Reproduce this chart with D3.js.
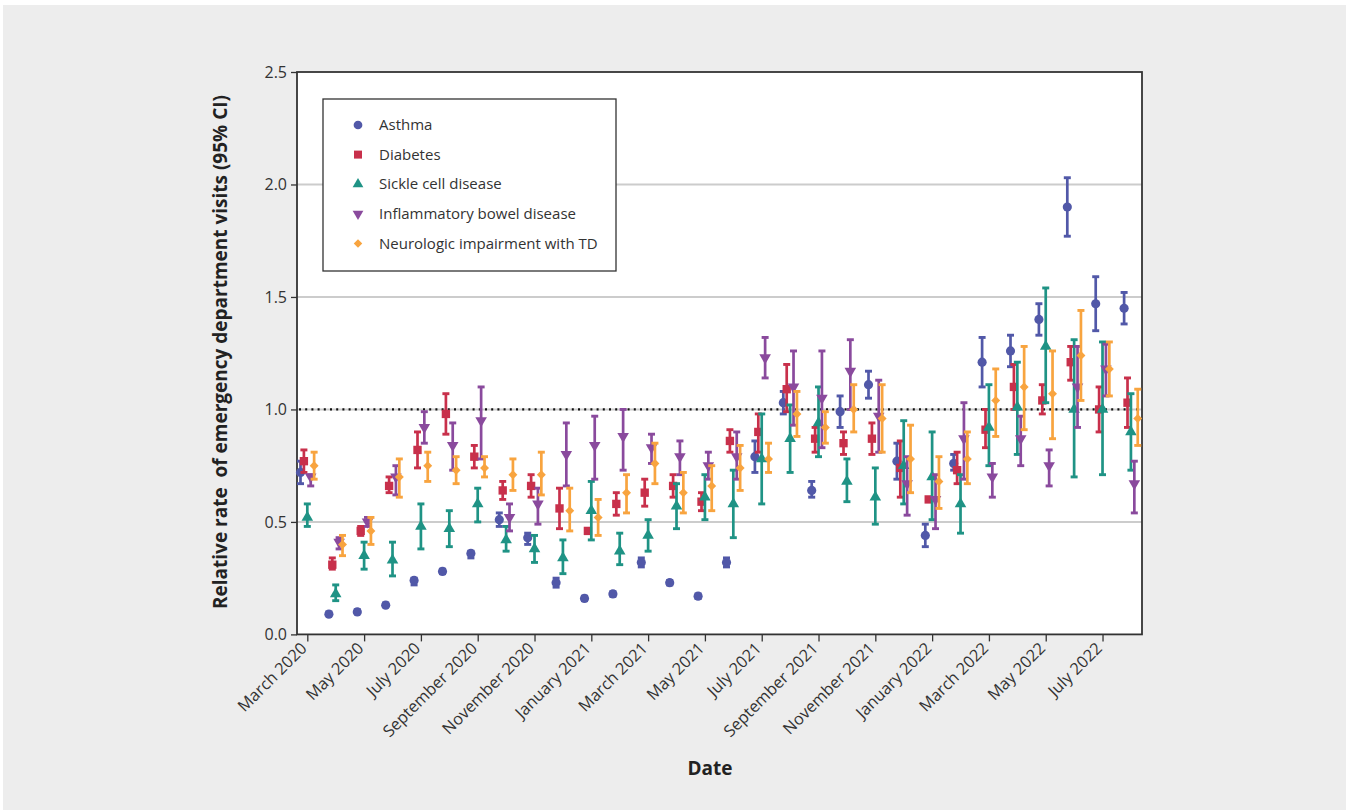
<!DOCTYPE html>
<html>
<head>
<meta charset="utf-8">
<script src="https://cdn.jsdelivr.net/npm/d3@7"></script>
<style>
  body { margin: 0; background: #fff; }
  svg { display: block; font-family: "Open Sans", sans-serif; }
</style>
</head>
<body>
<svg id="chart" width="1346" height="810"></svg>
<script>
// months, March 2020 .. August 2022
var months = ["March 2020","April 2020","May 2020","June 2020","July 2020","August 2020",
  "September 2020","October 2020","November 2020","December 2020","January 2021","February 2021",
  "March 2021","April 2021","May 2021","June 2021","July 2021","August 2021",
  "September 2021","October 2021","November 2021","December 2021","January 2022","February 2022",
  "March 2022","April 2022","May 2022","June 2022","July 2022","August 2022"];

var seriesNames = ["Asthma","Diabetes","Sickle cell disease","Inflammatory bowel disease","Neurologic impairment with TD"];

var asthma   = [0.72,0.09,0.10,0.13,0.24,0.28,0.36,0.51,0.43,0.23,0.16,0.18,0.32,0.23,0.17,0.32,0.79,1.03,0.64,0.99,1.11,0.77,0.44,0.76,1.21,1.26,1.40,1.90,1.47,1.45];
var asthmaLo = [0.67,0.09,0.10,0.13,0.22,0.27,0.34,0.48,0.40,0.21,0.15,0.17,0.30,0.22,0.16,0.30,0.72,0.98,0.61,0.92,1.05,0.69,0.39,0.73,1.10,1.19,1.33,1.77,1.35,1.38];
var asthmaHi = [0.77,0.10,0.11,0.14,0.25,0.29,0.37,0.54,0.45,0.25,0.17,0.19,0.34,0.24,0.18,0.34,0.86,1.08,0.68,1.06,1.17,0.85,0.49,0.80,1.32,1.33,1.47,2.03,1.59,1.52];

var diabetes   = [0.77,0.31,0.46,0.66,0.82,0.98,0.79,0.64,0.66,0.56,0.46,0.58,0.63,0.66,0.59,0.86,0.90,1.09,0.87,0.85,0.87,0.74,0.60,0.73,0.91,1.10,1.04,1.21,1.00,1.03];
var diabetesLo = [0.72,0.29,0.44,0.63,0.74,0.89,0.74,0.60,0.61,0.47,0.46,0.53,0.57,0.61,0.55,0.81,0.81,0.99,0.81,0.80,0.80,0.61,0.60,0.67,0.83,1.00,0.98,1.13,0.90,0.92];
var diabetesHi = [0.82,0.34,0.48,0.70,0.90,1.07,0.84,0.68,0.71,0.65,0.46,0.63,0.69,0.71,0.63,0.91,0.98,1.20,0.92,0.90,0.94,0.86,0.60,0.81,1.00,1.20,1.11,1.28,1.10,1.14];

var sickle   = [0.52,0.18,0.35,0.33,0.48,0.47,0.58,0.42,0.38,0.34,0.55,0.37,0.44,0.57,0.61,0.58,0.78,0.87,0.94,0.68,0.61,0.75,0.70,0.58,0.92,1.01,1.28,1.00,1.00,0.90];
var sickleLo = [0.48,0.15,0.29,0.26,0.38,0.39,0.50,0.37,0.32,0.27,0.42,0.31,0.37,0.47,0.51,0.43,0.58,0.72,0.79,0.59,0.49,0.58,0.51,0.45,0.75,0.80,1.03,0.70,0.71,0.73];
var sickleHi = [0.58,0.22,0.41,0.41,0.58,0.55,0.65,0.48,0.44,0.42,0.68,0.45,0.51,0.67,0.71,0.73,0.98,1.02,1.10,0.78,0.74,0.95,0.90,0.71,1.11,1.21,1.54,1.31,1.30,1.07];

var ibd   = [0.70,0.41,0.50,0.70,0.92,0.84,0.95,0.52,0.58,0.80,0.84,0.88,0.83,0.79,0.75,0.79,1.23,1.10,1.05,1.17,0.97,0.67,0.60,0.87,0.70,0.87,0.75,1.10,1.18,0.67];
var ibdLo = [0.66,0.38,0.48,0.62,0.85,0.73,0.78,0.46,0.49,0.66,0.69,0.73,0.76,0.71,0.69,0.69,1.14,0.93,0.83,1.00,0.81,0.53,0.47,0.69,0.61,0.75,0.66,0.92,1.06,0.54];
var ibdHi = [0.71,0.43,0.52,0.75,0.99,0.94,1.10,0.58,0.65,0.94,0.97,1.00,0.89,0.86,0.81,0.90,1.32,1.26,1.26,1.31,1.13,0.79,0.71,1.03,0.76,0.97,0.82,1.28,1.29,0.77];

var neuro   = [0.75,0.40,0.46,0.70,0.75,0.73,0.74,0.71,0.71,0.55,0.52,0.63,0.76,0.63,0.66,0.74,0.78,0.98,0.92,1.00,0.96,0.78,0.68,0.78,1.04,1.10,1.07,1.24,1.18,0.96];
var neuroLo = [0.69,0.35,0.40,0.61,0.68,0.67,0.70,0.64,0.62,0.46,0.44,0.54,0.67,0.54,0.55,0.64,0.72,0.88,0.85,0.90,0.81,0.63,0.56,0.67,0.88,0.91,0.87,1.04,1.06,0.84];
var neuroHi = [0.81,0.44,0.52,0.78,0.81,0.79,0.79,0.78,0.81,0.65,0.60,0.71,0.85,0.72,0.75,0.84,0.85,1.08,0.99,1.11,1.11,0.93,0.79,0.90,1.18,1.28,1.26,1.44,1.30,1.09];

var yTicks = [0.0, 0.5, 1.0, 1.5, 2.0, 2.5];

var colors = ["#5158a8", "#c8304b", "#1f9385", "#8a4a9d", "#f8a43f"];
var offsets = [-0.24, -0.12, 0, 0.12, 0.24];

var series = [
  {est: asthma, lo: asthmaLo, hi: asthmaHi},
  {est: diabetes, lo: diabetesLo, hi: diabetesHi},
  {est: sickle, lo: sickleLo, hi: sickleHi},
  {est: ibd, lo: ibdLo, hi: ibdHi},
  {est: neuro, lo: neuroLo, hi: neuroHi}
];

// diamond = rotated square
var symbols = [
  d3.symbol().type(d3.symbolCircle).size(66),
  d3.symbol().type(d3.symbolSquare).size(70),
  d3.symbol().type(d3.symbolTriangle).size(58),
  d3.symbol().type(d3.symbolTriangle).size(58),
  d3.symbol().type(d3.symbolSquare).size(40)
];
var rotations = [0, 0, 0, 180, 45];

var svg = d3.select("#chart");

// gray page
svg.append("rect").attr("x", 3).attr("y", 5).attr("width", 1343).attr("height", 805).attr("fill", "#ededed");

var pLeft = 297, pRight = 1142, pTop = 72, pBottom = 634.4;

var x = d3.scaleLinear().domain([-0.363, 29.39]).range([pLeft, pRight]);
var y = d3.scaleLinear().domain([0, 2.5]).range([pBottom, pTop]);

// plot panel
svg.append("rect")
   .attr("x", pLeft).attr("y", pTop)
   .attr("width", pRight - pLeft).attr("height", pBottom - pTop)
   .attr("fill", "#fff");

// grid lines
svg.append("g")
   .selectAll("line")
   .data([0.5, 1.0, 1.5, 2.0])
   .enter()
   .append("line")
   .attr("x1", pLeft).attr("x2", pRight)
   .attr("y1", function(d) { return y(d); })
   .attr("y2", function(d) { return y(d); })
   .attr("stroke", "#cccccc")
   .attr("stroke-width", 2);

// reference line at 1.0
svg.append("line")
   .attr("x1", pLeft + 2).attr("x2", pRight)
   .attr("y1", y(1)).attr("y2", y(1))
   .attr("stroke", "#111")
   .attr("stroke-width", 2.2)
   .attr("stroke-dasharray", "2,4.2");

// y axis
var yAxis = d3.axisLeft(y).tickValues(yTicks).tickFormat(d3.format(".1f")).tickSize(6).tickSizeOuter(0);
var gy = svg.append("g").attr("transform", "translate(" + pLeft + ",0)").call(yAxis);
gy.select(".domain").remove();
gy.selectAll("line").attr("stroke", "#333").attr("stroke-width", 1.3);
gy.selectAll("text").attr("font-size", "16px").attr("fill", "#333").attr("font-family", "Open Sans, sans-serif").attr("dx", "-1");

// x axis
var xAxis = d3.axisBottom(x).tickValues(d3.range(0, 30, 2))
   .tickFormat(function(d) { return months[d]; })
   .tickSize(7).tickSizeOuter(0);
var gx = svg.append("g").attr("transform", "translate(0," + pBottom + ")").call(xAxis);
gx.select(".domain").remove();
gx.selectAll("line").attr("stroke", "#333").attr("stroke-width", 1.3);
gx.selectAll("text")
   .attr("font-size", "16.3px")
   .attr("fill", "#333")
   .attr("font-family", "Open Sans, sans-serif")
   .attr("text-anchor", "end")
   .attr("transform", "translate(-4,11) rotate(-45)")
   .attr("dy", "0.35em")
   .attr("y", 0)
   .attr("x", 0);

// panel border
svg.append("rect")
   .attr("x", pLeft).attr("y", pTop)
   .attr("width", pRight - pLeft).attr("height", pBottom - pTop)
   .attr("fill", "none")
   .attr("stroke", "#333")
   .attr("stroke-width", 1.8);

// error bars and markers
series.forEach(function(s, k) {
  var g = svg.append("g");
  var idx = d3.range(months.length);
  var cap = 3.5;

  g.selectAll("line.bar")
   .data(idx)
   .enter()
   .append("line")
   .attr("x1", function(i) { return x(i + offsets[k]); })
   .attr("x2", function(i) { return x(i + offsets[k]); })
   .attr("y1", function(i) { return y(s.lo[i]); })
   .attr("y2", function(i) { return y(s.hi[i]); })
   .attr("stroke", colors[k])
   .attr("stroke-width", 2.7);

  ["lo", "hi"].forEach(function(key) {
    g.selectAll("line.cap" + key)
     .data(idx)
     .enter()
     .append("line")
     .attr("x1", function(i) { return x(i + offsets[k]) - cap; })
     .attr("x2", function(i) { return x(i + offsets[k]) + cap; })
     .attr("y1", function(i) { return y(s[key][i]); })
     .attr("y2", function(i) { return y(s[key][i]); })
     .attr("stroke", colors[k])
     .attr("stroke-width", 2.9);
  });

  g.selectAll("path")
   .data(idx)
   .enter()
   .append("path")
   .attr("d", symbols[k])
   .attr("transform", function(i) {
     return "translate(" + x(i + offsets[k]) + "," + y(s.est[i]) + ") rotate(" + rotations[k] + ")";
   })
   .attr("fill", colors[k]);
});

// legend
var lg = svg.append("g");
lg.append("rect")
  .attr("x", 323).attr("y", 99)
  .attr("width", 293).attr("height", 172)
  .attr("fill", "#fff")
  .attr("stroke", "#333")
  .attr("stroke-width", 1.3);

var legendSyms = [
  d3.symbol().type(d3.symbolCircle).size(60),
  d3.symbol().type(d3.symbolSquare).size(64),
  d3.symbol().type(d3.symbolTriangle).size(50),
  d3.symbol().type(d3.symbolTriangle).size(50),
  d3.symbol().type(d3.symbolSquare).size(36)
];

lg.selectAll("path")
  .data(seriesNames)
  .enter()
  .append("path")
  .attr("d", function(d, i) { return legendSyms[i](); })
  .attr("transform", function(d, i) {
    return "translate(358," + (125 + i * 29.6) + ") rotate(" + rotations[i] + ")";
  })
  .attr("fill", function(d, i) { return colors[i]; });

lg.selectAll("text")
  .data(seriesNames)
  .enter()
  .append("text")
  .text(function(d) { return d; })
  .attr("x", 379)
  .attr("y", function(d, i) { return 125 + i * 29.6; })
  .attr("dy", "0.35em")
  .attr("font-size", "15px")
  .attr("fill", "#333");

// axis titles
svg.append("text")
   .text("Relative rate  of emergency department visits (95% CI)")
   .attr("transform", "translate(227,352) rotate(-90)")
   .attr("text-anchor", "middle")
   .attr("xml:space", "preserve")
   .style("white-space", "pre")
   .attr("font-size", "19px")
   .attr("font-weight", "bold")
   .attr("fill", "#222");

svg.append("text")
   .text("Date")
   .attr("x", 710).attr("y", 775)
   .attr("text-anchor", "middle")
   .attr("font-size", "19px")
   .attr("font-weight", "bold")
   .attr("fill", "#222");
</script>
</body>
</html>
